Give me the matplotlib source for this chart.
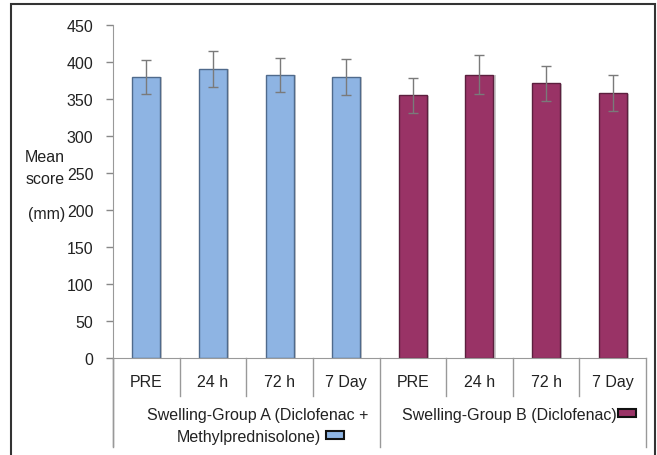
import matplotlib
matplotlib.use("Agg")
import matplotlib.pyplot as plt
from matplotlib.patches import Rectangle
from matplotlib.lines import Line2D
import matplotlib.patheffects as pe

plt.rcParams['font.family'] = ['Liberation Sans', 'DejaVu Sans']

categories = ["PRE", "24 h", "72 h", "7 Day", "PRE", "24 h", "72 h", "7 Day"]
group_a_means = [380, 391, 383, 380]
group_a_err = [23, 24.5, 23, 24]
group_b_means = [355, 383, 371, 358]
group_b_err = [24, 26, 24, 24]
group_labels = ["Swelling-Group A (Diclofenac +", "Methylprednisolone)", "Swelling-Group B (Diclofenac)"]
yticks = [0, 50, 100, 150, 200, 250, 300, 350, 400, 450]

col_a = "#8EB4E3"
edge_a = "#4F6A8C"
col_b = "#993366"
edge_b = "#5C1F3E"
FS = 11.5
TC = "#222222"

W, H = 657, 456
fig = plt.figure(figsize=(W / 100, H / 100), dpi=100)
ax = fig.add_axes([113 / W, 1 - 359 / H, (646 - 113) / W, (359 - 26) / H])

xa = list(range(4))
xb = list(range(4, 8))
shadow = [pe.SimplePatchShadow(offset=(1.5, -0.5), shadow_rgbFace="#999999", alpha=0.5), pe.Normal()]
ba = ax.bar(xa, group_a_means, width=0.42, color=col_a, edgecolor=edge_a, linewidth=1.0, zorder=2)
bb = ax.bar(xb, group_b_means, width=0.42, color=col_b, edgecolor=edge_b, linewidth=1.0, zorder=2)
for b in list(ba) + list(bb):
    b.set_path_effects(shadow)
ax.errorbar(xa, group_a_means, yerr=group_a_err, fmt="none", ecolor="#7a7a7a", elinewidth=1, capsize=3.5, capthick=1, zorder=3)
ax.errorbar(xb, group_b_means, yerr=group_b_err, fmt="none", ecolor="#7a7a7a", elinewidth=1, capsize=3.5, capthick=1, zorder=3)

ax.set_xlim(-0.5, 7.5)
ax.set_ylim(0, 450)
ax.set_yticks(yticks)
ax.set_yticklabels([str(v) for v in yticks], fontsize=FS, color=TC)
ax.tick_params(axis='y', length=5, color="#888888", width=1, pad=9)
ax.set_xticks([])
for s in ["top", "right"]:
    ax.spines[s].set_visible(False)
ax.spines["left"].set_color("#999999")
ax.spines["bottom"].set_color("#999999")

axh = 359 - 26
ax.add_line(Line2D([-0.5, -0.5], [0, -88 / axh], transform=ax.get_xaxis_transform(), color="#999999", lw=1, clip_on=False))
for i in range(9):
    xpos = -0.5 + i
    depth = 89 if i in (0, 4, 8) else 38
    ax.add_line(Line2D([xpos, xpos], [0, -depth / axh], transform=ax.get_xaxis_transform(), color="#999999", lw=1, clip_on=False))

for i, c in enumerate(categories):
    ax.annotate(c, xy=(i, 0), xycoords=ax.get_xaxis_transform(), xytext=(0, -24), textcoords="offset pixels",
                ha="center", va="center", fontsize=FS, color=TC)

fig.text(258 / W, 1 - 416 / H, group_labels[0], ha="center", va="center", fontsize=FS, color=TC)
t2 = fig.text(249 / W, 1 - 438 / H, group_labels[1], ha="center", va="center", fontsize=FS, color=TC)
t3 = fig.text(509 / W, 1 - 416 / H, group_labels[2], ha="center", va="center", fontsize=FS, color=TC)

fig.canvas.draw()
r = fig.canvas.get_renderer()
for t, col, gap, yc in [(t2, col_a, 5, 436), (t3, col_b, 2, 414)]:
    bb_ = t.get_window_extent(r)
    x0 = bb_.x1 + gap
    bw, bh = 18, 8
    fig.patches.append(Rectangle((x0 / W, (H - yc - bh / 2) / H), bw / W, bh / H, transform=fig.transFigure,
                                 facecolor=col, edgecolor="#111111", linewidth=1.5, figure=fig))

fig.text(45 / W, 1 - 157 / H, "Mean", ha="center", va="center", fontsize=FS, color=TC)
fig.text(45 / W, 1 - 179 / H, "score", ha="center", va="center", fontsize=FS, color=TC)
fig.text(47 / W, 1 - 215 / H, "(mm)", ha="center", va="center", fontsize=FS, color=TC)

fig.patches.append(Rectangle((11 / W, -10 / H), (655 - 11) / W, (H - 5 + 10) / H, transform=fig.transFigure,
                             facecolor="none", edgecolor="#333333", linewidth=1.5, figure=fig))

fig.savefig("out.png", dpi=100)
